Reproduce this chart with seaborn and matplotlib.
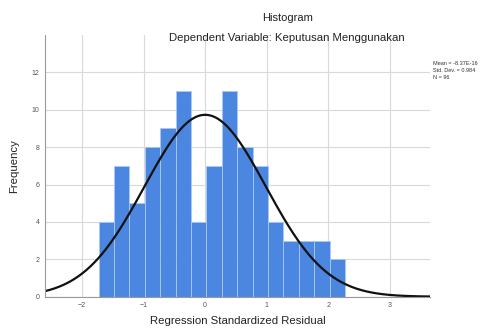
import numpy as np
import pandas as pd
import matplotlib
matplotlib.use("Agg")
import matplotlib.pyplot as plt
import seaborn as sns

# ---- data ----
counts = [4, 7, 5, 8, 9, 11, 4, 7, 11, 8, 7, 4, 3, 3, 3, 2]
bin_start = -1.73
bin_width = 0.25
mean_val = 0.0
std_val = 0.984
n_val = 96
x_ticks = [-2, -1, 0, 1, 2, 3]
y_ticks = [0, 2, 4, 6, 8, 10, 12]
title_main = "Histogram"
title_sub = "Dependent Variable: Keputusan Menggunakan"
x_label = "Regression Standardized Residual"
y_label = "Frequency"
stats_lines = ["Mean = -8.37E-16", "Std. Dev. = 0.984", "N = 96"]

edges = [float(bin_start + bin_width * i) for i in range(len(counts) + 1)]
centers = [(edges[i] + edges[i + 1]) / 2 for i in range(len(counts))]
df = pd.DataFrame({"resid": centers, "count": counts})

sns.set_style("white")
plt.rcParams['font.family'] = ['Liberation Sans', 'DejaVu Sans']

fig = plt.figure(figsize=(4.87, 3.29), dpi=100)
ax = fig.add_axes([0.0924, 0.0982, 0.7906, 0.7954])

ax.set_axisbelow(True)
ax.grid(True, color="#d9d9d9", linewidth=0.8)

sns.histplot(data=df, x="resid", weights="count", bins=edges, ax=ax,
             color="#4b87e0", edgecolor="#a9c8f5", linewidth=0.6, alpha=1.0)

xs = np.linspace(-2.6, 3.65, 400)
pdf = n_val * bin_width / (std_val * np.sqrt(2 * np.pi)) * np.exp(-0.5 * ((xs - mean_val) / std_val) ** 2)
sns.lineplot(x=xs, y=pdf, ax=ax, color="#111111", linewidth=1.6)

ax.set_xlim(-2.6, 3.65)
ax.set_ylim(0, 14)
ax.set_xticks(x_ticks)
ax.set_yticks(y_ticks)
ax.tick_params(axis="both", labelsize=5, length=2, colors="#555555", pad=2)
for sp in ["top", "right"]:
    ax.spines[sp].set_visible(False)
ax.spines["left"].set_color("#999999")
ax.spines["bottom"].set_color("#999999")
ax.spines["left"].set_linewidth(0.8)
ax.spines["bottom"].set_linewidth(0.8)

ax.set_xlabel(x_label, fontsize=8.2, labelpad=5, color="#222222")
ax.set_ylabel(y_label, fontsize=8.2, labelpad=9, color="#222222")

fig.text(0.591, 0.945, title_main, ha="center", va="center", fontsize=8.0, color="#222222")
fig.text(0.589, 0.884, title_sub, ha="center", va="center", fontsize=8.2, color="#222222")

for i, line in enumerate(stats_lines):
    fig.text(0.889, 0.808 - i * 0.022, line, ha="left", va="center", fontsize=4.0, color="#333333")

fig.savefig("out.png", dpi=100)
